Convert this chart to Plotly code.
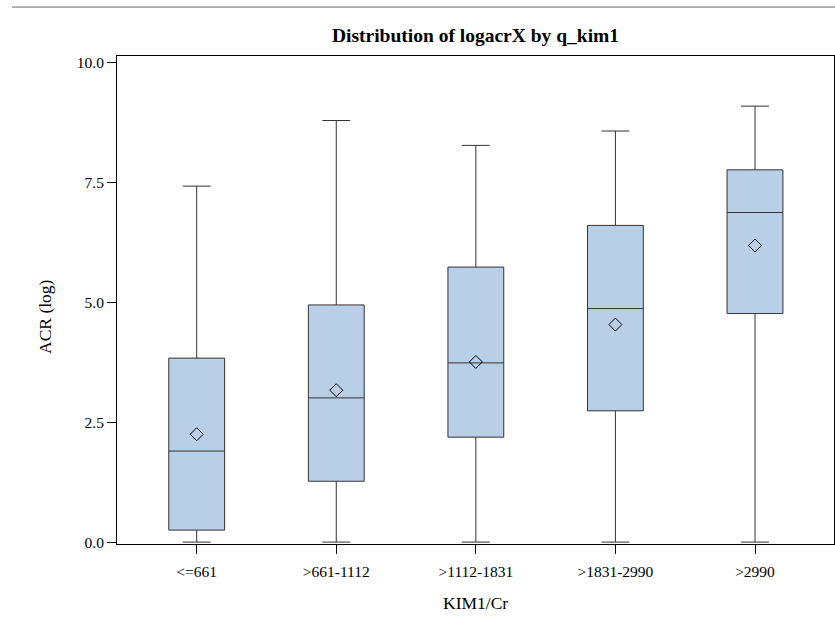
import plotly.graph_objects as go

# Summary statistics of logacrX per KIM1/Cr quintile
categories = ["<=661", ">661-1112", ">1112-1831", ">1831-2990", ">2990"]
lower_whisker = [0.0, 0.0, 0.0, 0.0, 0.0]
q1_values = [0.25, 1.27, 2.19, 2.74, 4.77]
median_values = [1.90, 3.01, 3.74, 4.875, 6.88]
q3_values = [3.84, 4.95, 5.74, 6.61, 7.77]
upper_whisker = [7.43, 8.80, 8.28, 8.58, 9.10]
mean_values = [2.25, 3.17, 3.76, 4.54, 6.19]
y_ticks = [0.0, 2.5, 5.0, 7.5, 10.0]

serif = "Liberation Serif, Times New Roman, serif"

fig = go.Figure()

fig.add_trace(go.Box(
    x=categories,
    q1=q1_values,
    median=median_values,
    q3=q3_values,
    lowerfence=lower_whisker,
    upperfence=upper_whisker,
    boxpoints=False,
    boxmean=False,
    width=0.4,
    whiskerwidth=0.5,
    fillcolor="#B9CFE7",
    line=dict(color="#333333", width=1),
    hoverinfo="skip",
    showlegend=False,
))

fig.add_trace(go.Scatter(
    x=categories,
    y=mean_values,
    mode="markers",
    marker=dict(symbol="diamond-open", size=10, color="black",
                line=dict(color="black", width=1)),
    hoverinfo="skip",
    showlegend=False,
))

fig.update_layout(
    width=835,
    height=627,
    margin=dict(l=117, r=1, t=56, b=83),
    paper_bgcolor="white",
    plot_bgcolor="white",
    font=dict(family=serif, size=15, color="black"),
    title=dict(
        text="<b>Distribution of logacrX by q_kim1</b>",
        x=(117 + 834) / 2 / 835,
        xanchor="center",
        y=1 - 35 / 627,
        yanchor="middle",
        font=dict(family=serif, size=19.5, color="black"),
    ),
    xaxis=dict(
        type="category",
        range=[-0.571, 4.566],
        showline=True,
        linecolor="black",
        linewidth=1,
        mirror=True,
        ticks="outside",
        ticklen=9,
        tickcolor="black",
        ticklabelstandoff=4,
        showgrid=False,
        zeroline=False,
        tickfont=dict(family=serif, size=15.5),
    ),
    yaxis=dict(
        range=[-0.04, 10.146],
        tickvals=y_ticks,
        tickformat=".1f",
        showline=True,
        linecolor="black",
        linewidth=1,
        mirror=True,
        ticks="outside",
        ticklen=9,
        tickcolor="black",
        showgrid=False,
        zeroline=False,
        tickfont=dict(family=serif, size=15.5),
    ),
    annotations=[
        dict(text="KIM1/Cr", xref="paper", yref="paper",
             x=0.5, y=-(603 - 544.3) / 488.6, xanchor="center", yanchor="middle",
             showarrow=False, font=dict(family=serif, size=17.5)),
        dict(text="ACR (log)", xref="paper", yref="paper",
             x=-(117 - 45) / 717, y=(544.3 - 317) / 488.6, xanchor="center", yanchor="middle",
             textangle=-90, showarrow=False, font=dict(family=serif, size=17.5)),
    ],
    shapes=[
        dict(type="line", xref="paper", yref="paper",
             x0=-(117 - 12) / 717, x1=(835 - 117) / 717,
             y0=(544.3 - 6.7) / 488.6, y1=(544.3 - 6.7) / 488.6,
             line=dict(color="#666666", width=1)),
    ],
)

fig.write_html("out.html")
